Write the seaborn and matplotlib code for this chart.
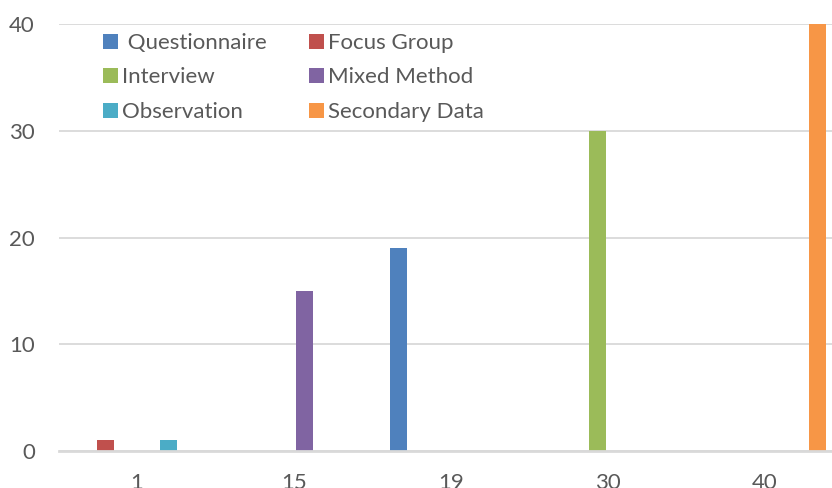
import matplotlib
matplotlib.use("Agg")
import matplotlib.pyplot as plt
from matplotlib.patches import Patch
import seaborn as sns
import pandas as pd

categories = ["1", "15", "19", "30", "40"]
series = ["Questionnaire", "Focus Group", "Interview", "Mixed Method", "Observation", "Secondary Data"]
questionnaire = [0, 0, 19, 0, 0]
focus_group = [1, 0, 0, 0, 0]
interview = [0, 0, 0, 30, 0]
mixed_method = [0, 15, 0, 0, 0]
observation = [1, 0, 0, 0, 0]
secondary_data = [0, 0, 0, 0, 40]
colors = ["#4F81BD", "#C0504D", "#9BBB59", "#8064A2", "#4BACC6", "#F79646"]

values = [questionnaire, focus_group, interview, mixed_method, observation, secondary_data]
rows = []
for s, vals in zip(series, values):
    for c, v in zip(categories, vals):
        rows.append({"category": c, "series": s, "value": v})
df = pd.DataFrame(rows)

sns.set_style("white")
plt.rcParams["font.family"] = ["Lato", "DejaVu Sans"]

fig = plt.figure(figsize=(8.32, 4.88), dpi=100)
ax = fig.add_axes([58.5 / 832, 37 / 488, 785 / 832, 427 / 488])

sns.barplot(data=df, x="category", y="value", hue="series", order=categories,
            hue_order=series, palette=colors, saturation=1, width=0.8, gap=0.19,
            linewidth=0, errorbar=None, ax=ax, legend=False)

ax.set_ylim(0, 40)
ax.set_xlim(-0.5, len(categories) - 0.5)
ax.set_yticks([0, 10, 20, 30, 40])
ax.yaxis.grid(True, color="#D9D9D9", linewidth=1.3)
ax.set_axisbelow(True)
for side in ["left", "right", "top"]:
    ax.spines[side].set_visible(False)
ax.spines["bottom"].set_color("#D9D9D9")
ax.spines["bottom"].set_linewidth(2)
ax.set_xlabel("")
ax.set_ylabel("")
ax.tick_params(axis="both", length=0, labelsize=16, colors="#595959")
ax.tick_params(axis="x", pad=16)
ax.tick_params(axis="y", pad=17)

handles = [Patch(facecolor=c, edgecolor="none") for c in colors]
labels = [" " + series[0]] + series[1:]
order = [0, 2, 4, 1, 3, 5]
leg = ax.legend([handles[i] for i in order], [labels[i] for i in order], ncol=2,
                loc="upper left", bbox_to_anchor=(103 / 832, 1 - 33 / 488),
                bbox_transform=fig.transFigure, frameon=False, fontsize=16,
                handlelength=0.66, handleheight=0.66, handletextpad=0.2,
                labelspacing=0.65, columnspacing=1.9, borderpad=0, borderaxespad=0)
for t in leg.get_texts():
    t.set_color("#595959")

fig.savefig("out.png", dpi=100)
